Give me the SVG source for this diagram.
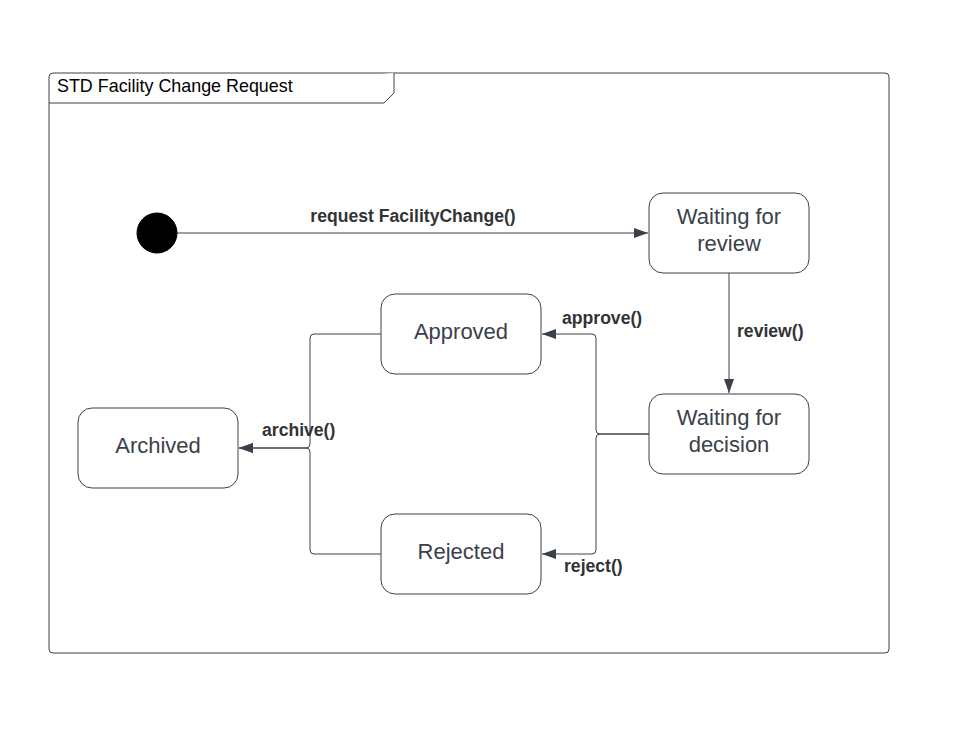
<svg xmlns="http://www.w3.org/2000/svg" width="955" height="752" viewBox="0 0 955 752">
<defs>
<style>
.frame{fill:#fff;stroke:#3a414a;stroke-width:1}
.node rect{fill:#fff;stroke:#3a414a;stroke-width:1}
.nt{font-family:"Liberation Sans",Arial,sans-serif;font-size:22px;fill:#3a414a;text-anchor:middle}
.lbl{font-family:"Liberation Sans",Arial,sans-serif;font-size:17.6px;font-weight:bold;fill:#333;}
.title{font-family:"Liberation Sans",Arial,sans-serif;font-size:17.9px;fill:#000}
.conn{fill:none;stroke:#3a414a;stroke-width:1}
</style>
<marker id="arr" viewBox="0 0 14 10" refX="14" refY="5" markerWidth="14" markerHeight="10" markerUnits="userSpaceOnUse" orient="auto">
<path d="M0,0 L14,5 L0,10 Z" fill="#3a414a"/>
</marker>
</defs>
<rect width="955" height="752" fill="#fff"/>
<g id="frame">
<rect class="frame" x="49" y="73" width="840" height="580" rx="4"/>
<path class="frame" d="M49,103 L384,103 L394,93 L394,73" fill="none"/>
<text class="title" x="57" y="92">STD Facility Change Request</text>
</g>
<g id="connectors">
<path class="conn" d="M177,233 L648,233" marker-end="url(#arr)"/>
<path class="conn" d="M729,273 L729,393" marker-end="url(#arr)"/>
<path class="conn" d="M649,434 L600,434 Q596,434 596,430 L596,338 Q596,334 592,334 L542,334" marker-end="url(#arr)"/>
<path class="conn" d="M649,434 L600,434 Q596,434 596,438 L596,550 Q596,554 592,554 L542,554" marker-end="url(#arr)"/>
<path class="conn" d="M381,334 L314,334 Q310,334 310,338 L310,444 Q310,448 306,448 L239,448" marker-end="url(#arr)"/>
<path class="conn" d="M381,554 L314,554 Q310,554 310,550 L310,452 Q310,448 306,448 L239,448" marker-end="url(#arr)"/>
<text class="lbl" x="413" y="222" text-anchor="middle">request FacilityChange()</text>
<text class="lbl" x="562" y="324">approve()</text>
<text class="lbl" x="737" y="337">review()</text>
<text class="lbl" x="262" y="436">archive()</text>
<text class="lbl" x="564" y="572">reject()</text>
</g>
<g id="initial">
<circle cx="157" cy="233" r="20" fill="#000" stroke="#000"/>
</g>
<g id="waiting-review" class="node">
<rect x="649" y="193" width="160" height="80" rx="14"/>
<text class="nt" x="729" y="224">Waiting for</text>
<text class="nt" x="729" y="251">review</text>
</g>
<g id="waiting-decision" class="node">
<rect x="649" y="394" width="160" height="80" rx="14"/>
<text class="nt" x="729" y="425">Waiting for</text>
<text class="nt" x="729" y="452">decision</text>
</g>
<g id="approved" class="node">
<rect x="381" y="294" width="160" height="80" rx="14"/>
<text class="nt" x="461" y="339">Approved</text>
</g>
<g id="rejected" class="node">
<rect x="381" y="514" width="160" height="80" rx="14"/>
<text class="nt" x="461" y="559">Rejected</text>
</g>
<g id="archived" class="node">
<rect x="78" y="408" width="160" height="80" rx="14"/>
<text class="nt" x="158" y="453">Archived</text>
</g>
</svg>
